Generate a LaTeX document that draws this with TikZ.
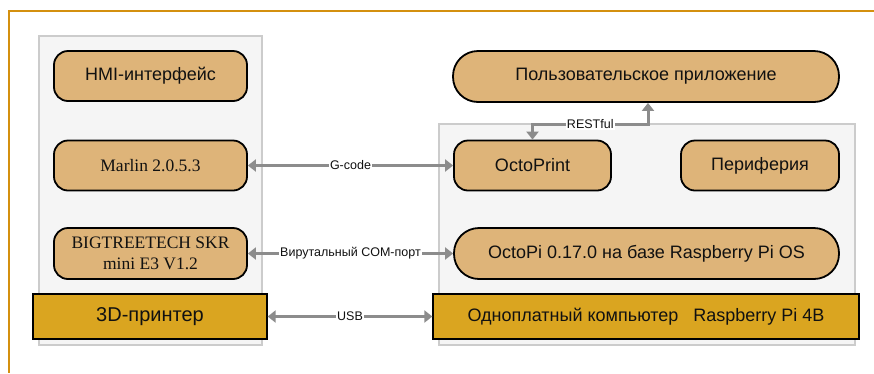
\documentclass[tikz,border=0pt]{standalone}
\usepackage{fontspec}
\setmainfont{Liberation Serif}
\newfontfamily\sansf{Liberation Sans}
\usetikzlibrary{arrows.meta}
\definecolor{nodefill}{HTML}{DEB479}
\definecolor{goldfill}{HTML}{DAA520}
\definecolor{framec}{HTML}{D4900F}
\definecolor{panelfill}{HTML}{F5F5F5}
\definecolor{paneldraw}{HTML}{CCCCCC}
\definecolor{arrowc}{HTML}{8C8C8C}
\definecolor{txt}{HTML}{111111}
\tikzset{
  soft/.style={draw=black, line width=1.8pt, fill=nodefill, rounded corners=14pt, text=txt, inner sep=0pt, align=center},
  pill/.style={draw=black, line width=1.8pt, fill=nodefill, rounded corners=25pt, text=txt, inner sep=0pt, align=center},
  goldbox/.style={draw=black, line width=1.3pt, fill=goldfill, text=txt, inner sep=0pt, font=\sansf\fontsize{18}{21}\selectfont},
  sanstxt/.style={font=\sansf\fontsize{18}{21}\selectfont},
  seriftxt/.style={font=\rmfamily\fontsize{17.5}{22}\selectfont},
  panel/.style={draw=paneldraw, line width=1.2pt, fill=panelfill},
  arr/.style={draw=arrowc, line width=3pt, {Triangle[length=8pt,width=12pt]}-{Triangle[length=8pt,width=12pt]}},
  lbl/.style={fill=white, inner sep=1pt, text=txt, font=\sansf\fontsize{12.5}{14}\selectfont}
}
\begin{document}
\begin{tikzpicture}[x=1pt,y=-1pt]
\useasboundingbox (0,0) rectangle (874,373);
% outer frame
\draw[framec, line width=2pt] (874,10.5) -- (8.5,10.5) -- (8.5,373);
% panels
\draw[panel] (39,36) rectangle (262,345);
\draw[panel] (439,124) rectangle (855,345);
% left column
\node[soft, sanstxt, minimum width=193pt, minimum height=50pt] (hmi) at (150.5,76) {HMI-интерфейс};
\node[soft, seriftxt, minimum width=193pt, minimum height=50pt] (marlin) at (150.5,165.5) {Marlin 2.0.5.3};
\node[soft, seriftxt, minimum width=193pt, minimum height=51pt] (btt) at (150.5,253.5) {BIGTREETECH SKR\\[-1pt]mini E3 V1.2};
\node[goldbox, font=\sansf\fontsize{20}{23}\selectfont, minimum width=234pt, minimum height=45pt] (printer) at (150,316.5) {3D-принтер};
% right column
\node[pill, sanstxt, minimum width=386pt, minimum height=51pt] (app) at (646,76.5) {Пользовательское приложение};
\node[soft, sanstxt, minimum width=157pt, minimum height=50pt] (octo) at (532.5,165.5) {OctoPrint};
\node[soft, sanstxt, minimum width=158pt, minimum height=50pt] (peri) at (760,165.5) {Периферия};
\node[pill, sanstxt, minimum width=385pt, minimum height=51pt] (octopi) at (646.5,253.5) {OctoPi 0.17.0 на базе Raspberry Pi OS};
\node[goldbox, minimum width=426pt, minimum height=45pt] (rpi) at (646,316.5) {Одноплатный компьютер\ \ \ Raspberry Pi 4B};
% connectors
\draw[arr] (marlin.east) -- node[lbl]{G-code} (octo.west);
\draw[arr] (btt.east) -- node[lbl]{Вирутальный COM-порт} (octopi.west);
\draw[arr] (printer.east) -- node[lbl]{USB} (rpi.west);
\coordinate (rc) at (648,124);
\draw[arr] (octo.north) |- node[lbl, pos=0.75]{RESTful} (rc) -- (app.south -| rc);
\end{tikzpicture}
\end{document}
